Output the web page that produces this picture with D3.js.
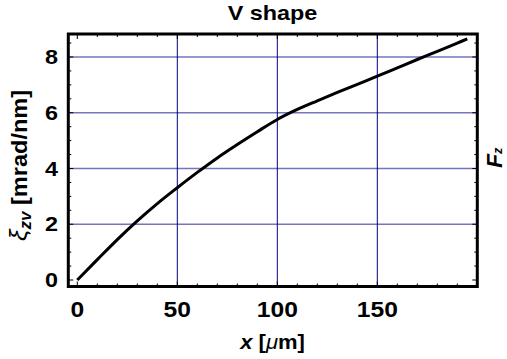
<!DOCTYPE html>
<html>
<head>
<meta charset="utf-8">
<script src="https://cdn.jsdelivr.net/npm/d3@7"></script>
<style>
  html, body { margin: 0; padding: 0; background: #fff; }
  svg { display: block; }
  text { font-family: "Liberation Sans", Arial, sans-serif; font-weight: bold; fill: #000; }
</style>
</head>
<body>
<svg id="chart" width="507" height="359"></svg>
<script>
// Torsional coefficient along the lever, V-shaped cantilever
const xPos   = [0, 10, 20, 30, 40, 50, 60, 70, 80, 90, 100, 110, 120, 130, 140, 150, 160, 170, 180, 190, 195];
const xiZv   = [0, 0.73, 1.45, 2.12, 2.74, 3.31, 3.86, 4.38, 4.86, 5.32, 5.76, 6.12, 6.43, 6.73, 7.02, 7.31, 7.61, 7.91, 8.2, 8.5, 8.65];
const xTicks = [0, 50, 100, 150];
const yTicks = [0, 2, 4, 6, 8];

const svg = d3.select("#chart");
const L = 68.3, R = 477.3, T = 34, B = 286.5;

const x = d3.scaleLinear().domain([-4.5, 200]).range([L, R]);
const y = d3.scaleLinear().domain([-0.233, 8.825]).range([B, T]);

// text drawn with a slight horizontal widening of the glyphs
function wideText(px, py, size, sx, anchor, rotate) {
  const g = svg.append("g")
    .attr("transform", `translate(${px},${py})` + (rotate ? ` rotate(${rotate})` : "") + ` scale(${sx},1)`);
  return g.append("text").attr("text-anchor", anchor).attr("font-size", size);
}

// grid
svg.append("g").selectAll("line").data(yTicks.filter(d => d > 0)).join("line")
  .attr("x1", L).attr("x2", R)
  .attr("y1", d => y(d)).attr("y2", d => y(d))
  .attr("stroke", "#7474bf").attr("stroke-width", 1.5);
svg.append("g").selectAll("line").data(xTicks.filter(d => d > 0)).join("line")
  .attr("y1", T).attr("y2", B)
  .attr("x1", d => x(d)).attr("x2", d => x(d))
  .attr("stroke", "#000080").attr("stroke-width", 1);

// inner ticks on all four sides
const xMinor = d3.range(0, 200, 10);
const yMinor = d3.range(0, 8.8, 0.5);
const tk = svg.append("g").attr("stroke", "#000").attr("stroke-width", 1);
xMinor.forEach(v => {
  const len = v % 50 === 0 ? 5 : 3;
  tk.append("line").attr("x1", x(v)).attr("x2", x(v)).attr("y1", B).attr("y2", B - len);
  tk.append("line").attr("x1", x(v)).attr("x2", x(v)).attr("y1", T).attr("y2", T + len);
});
yMinor.forEach(v => {
  const len = Math.abs(v % 2) < 1e-9 ? 5 : 3;
  tk.append("line").attr("y1", y(v)).attr("y2", y(v)).attr("x1", L).attr("x2", L + len);
  tk.append("line").attr("y1", y(v)).attr("y2", y(v)).attr("x1", R).attr("x2", R - len);
});

// curve
svg.append("path")
  .datum(xPos.map((v, i) => [v, xiZv[i]]))
  .attr("fill", "none").attr("stroke", "#000").attr("stroke-width", 3)
  .attr("stroke-linejoin", "round")
  .attr("d", d3.line().x(d => x(d[0])).y(d => y(d[1])).curve(d3.curveMonotoneX));

// frame
svg.append("rect").attr("x", L).attr("y", T).attr("width", R - L).attr("height", B - T)
  .attr("fill", "none").attr("stroke", "#000").attr("stroke-width", 3);

// tick labels
xTicks.forEach(d => wideText(x(d), 316.5, 22, 1.12, "middle").text(d));
yTicks.forEach(d => wideText(58, y(d) + 7, 19.5, 1.2, "end").text(d));

// title
wideText(272.5, 20, 19.5, 1.2, "middle").text("V shape");

// x axis title
const xt = wideText(272.5, 349, 20, 1.1, "middle");
xt.append("tspan").attr("font-style", "italic").text("x");
xt.append("tspan").text(" [");
xt.append("tspan").attr("font-style", "italic").attr("font-weight", "normal").text("μ");
xt.append("tspan").text("m]");

// y axis title
const yt = wideText(27, 165.5, 22, 1.07, "middle", -90);
yt.append("tspan").attr("font-style", "italic").attr("font-weight", "normal").attr("font-size", 24).text("ξ");
yt.append("tspan").attr("font-style", "italic").attr("font-size", 16).attr("dy", 4).text("zv");
yt.append("tspan").attr("dy", -4).text("  [mrad/nm]");

// right axis title
const rt = wideText(502, 168, 22, 1.05, "start", -90);
rt.append("tspan").attr("font-style", "italic").text("F");
rt.append("tspan").attr("font-style", "italic").attr("font-size", 12).attr("dy", 0).text("z");
</script>
</body>
</html>
